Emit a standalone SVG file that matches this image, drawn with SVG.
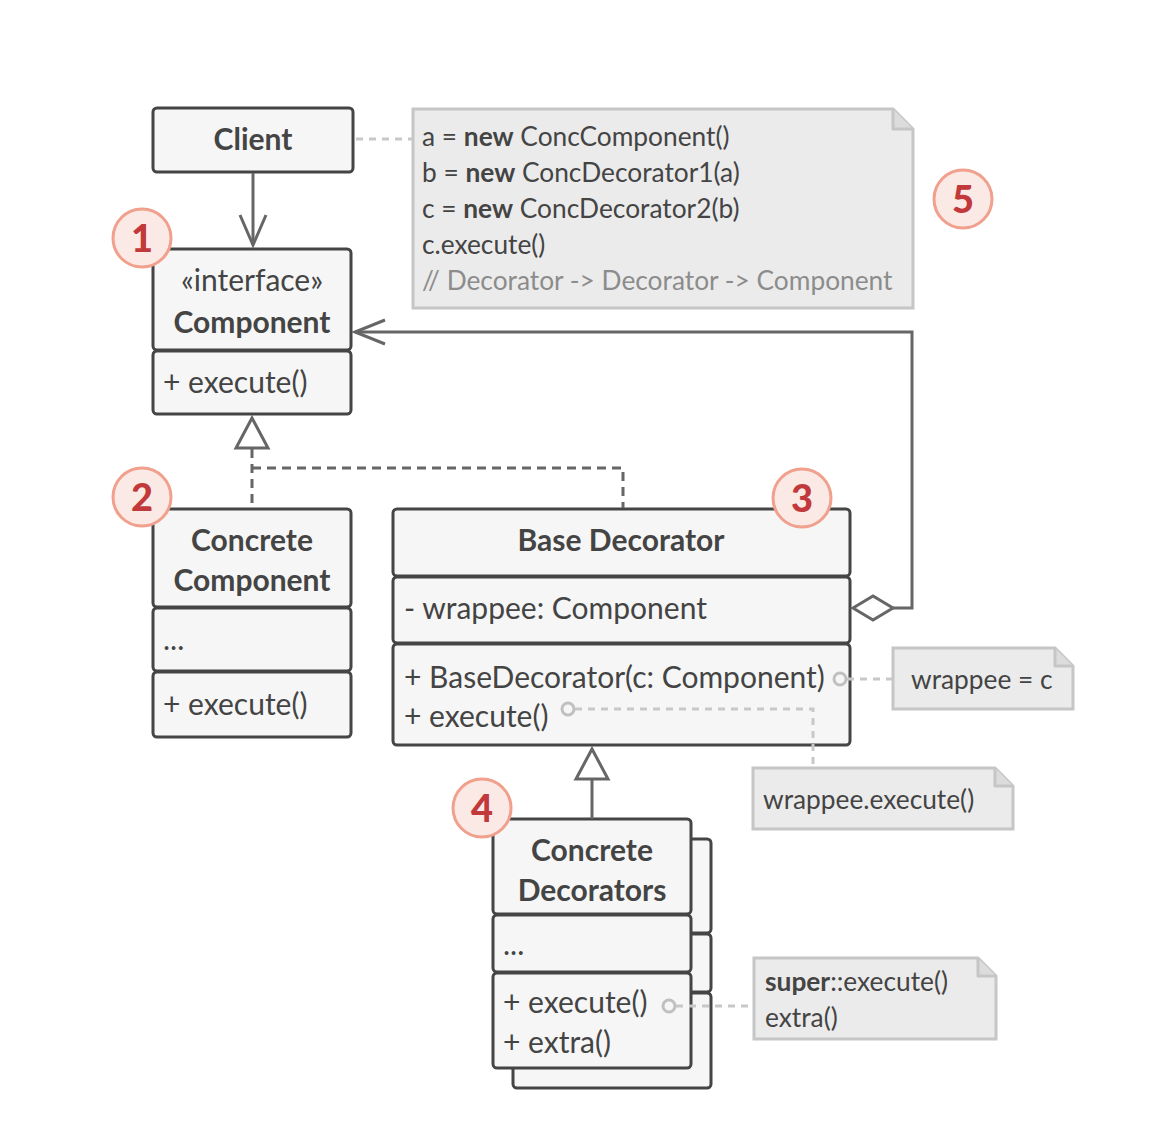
<svg xmlns="http://www.w3.org/2000/svg" width="1150" height="1146" viewBox="0 0 1150 1146">
  <style>
    .box { fill: #f6f6f6; stroke: #454545; stroke-width: 3; }
    .t { font-family: Lato, "Open Sans", sans-serif; font-size: 30px; fill: #444; }
    .b { font-weight: bold; }
    .c { text-anchor: middle; }
    .nt { font-family: Lato, "Open Sans", sans-serif; font-size: 26.3px; fill: #444; }
    .note { fill: #ebebeb; stroke: #c6c6c6; stroke-width: 3; }
    .fold { fill: #dcdcdc; stroke: #c6c6c6; stroke-width: 3; stroke-linejoin: round; }
    .line { fill: none; stroke: #666; stroke-width: 3; }
    .dash { fill: none; stroke: #666; stroke-width: 3; stroke-dasharray: 9 6; }
    .ndash { fill: none; stroke: #c8c8c8; stroke-width: 3; stroke-dasharray: 7 6; }
    .pin { fill: #f6f6f6; stroke: #c0c0c0; stroke-width: 3; }
    .badge { fill: #fbe9e5; stroke: #f0a08c; stroke-width: 3; }
    .num { font-family: Lato, "Open Sans", sans-serif; font-size: 38px; font-weight: 900; fill: #c1393b; text-anchor: middle; }
  </style>

  <!-- Client -->
  <g id="client">
    <rect class="box" x="153" y="108" width="200" height="64" rx="4"/>
    <text class="t b c" x="253" y="150">Client</text>
  </g>

  <!-- Component interface -->
  <g id="component">
    <rect class="box" x="153" y="249" width="198" height="101" rx="4"/>
    <rect class="box" x="153" y="351" width="198" height="63" rx="4"/>
    <text class="t c" x="252" y="291">«interface»</text>
    <text class="t b c" x="252" y="333">Component</text>
    <text class="t" x="163" y="393">+ execute()</text>
  </g>

  <!-- Concrete Component -->
  <g id="concrete-component">
    <rect class="box" x="153" y="509" width="198" height="98" rx="4"/>
    <rect class="box" x="153" y="608" width="198" height="63" rx="4"/>
    <rect class="box" x="153" y="672" width="198" height="65" rx="4"/>
    <text class="t b c" x="252" y="551">Concrete</text>
    <text class="t b c" x="252" y="591">Component</text>
    <text class="t" x="163" y="650">...</text>
    <text class="t" x="163" y="715">+ execute()</text>
  </g>

  <!-- Base Decorator -->
  <g id="base-decorator">
    <rect class="box" x="393" y="509" width="457" height="67" rx="4"/>
    <rect class="box" x="393" y="577" width="457" height="66" rx="4"/>
    <rect class="box" x="393" y="644" width="457" height="101" rx="4"/>
    <text class="t b c" x="621" y="551">Base Decorator</text>
    <text class="t" x="404" y="619">- wrappee: Component</text>
    <text class="t" x="404" y="688">+ BaseDecorator(c: Component)</text>
    <text class="t" x="404" y="727">+ execute()</text>
  </g>

  <!-- Concrete Decorators (stacked) -->
  <g id="concrete-decorators">
    <rect class="box" x="513" y="839" width="198" height="94" rx="4"/>
    <rect class="box" x="513" y="934" width="198" height="58" rx="4"/>
    <rect class="box" x="513" y="993" width="198" height="95" rx="4"/>
    <rect class="box" x="493" y="819" width="198" height="95" rx="4"/>
    <rect class="box" x="493" y="915" width="198" height="57" rx="4"/>
    <rect class="box" x="493" y="973" width="198" height="95" rx="4"/>
    <text class="t b c" x="592" y="861">Concrete</text>
    <text class="t b c" x="592" y="901">Decorators</text>
    <text class="t" x="503" y="955">...</text>
    <text class="t" x="503" y="1013">+ execute()</text>
    <text class="t" x="503" y="1053">+ extra()</text>
  </g>

  <!-- client code note -->
  <g id="note-client">
    <path class="note" d="M413 109 H893 L913 129 V308 H413 Z"/>
    <path class="fold" d="M893 109 V129 H913"/>
    <text class="nt" x="422" y="146">a = <tspan class="b">new</tspan> ConcComponent()</text>
    <text class="nt" x="422" y="182">b = <tspan class="b">new</tspan> ConcDecorator1(a)</text>
    <text class="nt" x="422" y="218">c = <tspan class="b">new</tspan> ConcDecorator2(b)</text>
    <text class="nt" x="422" y="254">c.execute()</text>
    <text class="nt" x="422" y="290" style="fill:#8c8c8c">// Decorator -&gt; Decorator -&gt; Component</text>
  </g>

  <!-- constructor note -->
  <g id="note-ctor">
    <path class="note" d="M893 648 H1055 L1073 666 V709 H893 Z"/>
    <path class="fold" d="M1055 648 V666 H1073"/>
    <text class="nt" x="911" y="689">wrappee = c</text>
  </g>

  <!-- execute note -->
  <g id="note-exec">
    <path class="note" d="M753 768 H995 L1013 786 V829 H753 Z"/>
    <path class="fold" d="M995 768 V786 H1013"/>
    <text class="nt" x="763" y="809">wrappee.execute()</text>
  </g>

  <!-- concrete decorator note -->
  <g id="note-extra">
    <path class="note" d="M754 958 H978 L996 976 V1039 H754 Z"/>
    <path class="fold" d="M978 958 V976 H996"/>
    <text class="nt" x="765" y="991"><tspan class="b">super</tspan>::execute()</text>
    <text class="nt" x="765" y="1027">extra()</text>
  </g>

  <!-- connectors -->
  <g id="connectors">
    <!-- Client uses Component -->
    <path class="line" d="M253 173 V245"/>
    <path class="line" d="M240 215 L253 245 L266 215"/>
    <!-- Client to code note -->
    <path class="ndash" d="M356 139 H412"/>
    <!-- implementation of Component -->
    <path class="line" d="M252 418 L236 448 H268 Z" fill="#fff"/>
    <path class="dash" d="M252 449 V508"/>
    <path class="dash" d="M252 468 H623 V508"/>
    <!-- aggregation: Base Decorator wraps Component -->
    <path class="line" d="M853 608 L873 596 L893 608 L873 620 Z" fill="#fff"/>
    <path class="line" d="M893 608 H912 V332 H355"/>
    <path class="line" d="M385 320 L355 332 L385 344"/>
    <!-- Concrete Decorators extend Base Decorator -->
    <path class="line" d="M592 749 L576 779 H608 Z" fill="#fff"/>
    <path class="line" d="M592 779 V819"/>
    <!-- note links -->
    <path class="ndash" d="M847 679 H892"/>
    <circle class="pin" cx="840" cy="679" r="6"/>
    <path class="ndash" d="M575 709 H813 V767"/>
    <circle class="pin" cx="568" cy="709" r="6"/>
    <path class="ndash" d="M676 1006 H752"/>
    <circle class="pin" cx="669" cy="1006" r="6"/>
  </g>

  <!-- numbered badges -->
  <g id="badge-1">
    <circle class="badge" cx="142" cy="238" r="29"/>
    <text class="num" x="142" y="252">1</text>
  </g>
  <g id="badge-2">
    <circle class="badge" cx="142" cy="497" r="29"/>
    <text class="num" x="142" y="511">2</text>
  </g>
  <g id="badge-3">
    <circle class="badge" cx="802" cy="498" r="29"/>
    <text class="num" x="802" y="512">3</text>
  </g>
  <g id="badge-4">
    <circle class="badge" cx="482" cy="808" r="29"/>
    <text class="num" x="482" y="822">4</text>
  </g>
  <g id="badge-5">
    <circle class="badge" cx="963" cy="199" r="29"/>
    <text class="num" x="963" y="213">5</text>
  </g>
</svg>
